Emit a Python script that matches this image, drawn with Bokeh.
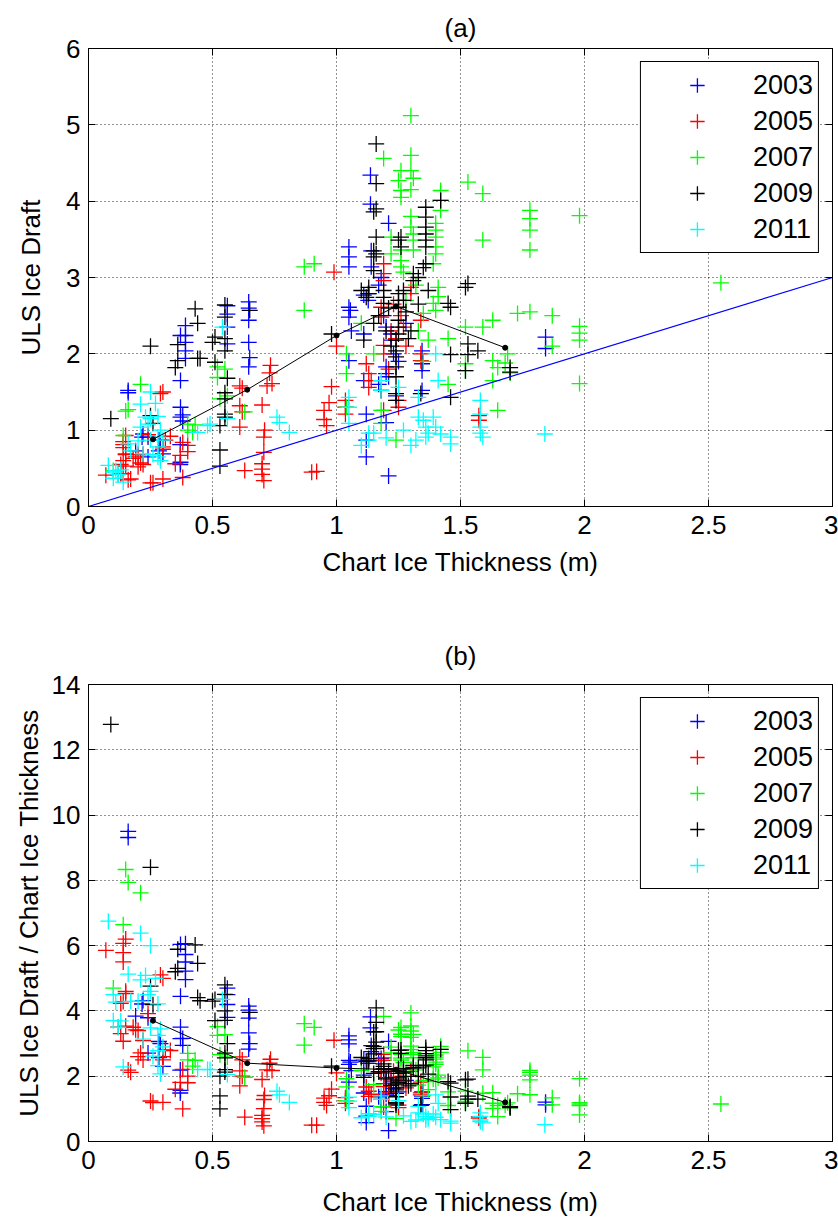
from bokeh.plotting import figure
from bokeh.models import ColumnDataSource, Legend, LegendItem, FixedTicker, LinearAxis, Range1d
from bokeh.layouts import column
from bokeh.embed import file_html
from bokeh.resources import INLINE

# ---------------- data (chart ice thickness, ULS ice draft) ----------------
years = ["2003", "2005", "2007", "2009", "2011"]
colors = ["#0000FF", "#FF0000", "#00FF00", "#000000", "#00FFFF"]

pts_2003 = [
    (0.16, 1.52), (0.16, 1.49), (0.391, 2.37), (0.391, 2.24), (0.391, 2.15), (0.391, 2.04), (0.391, 1.94),
    (0.371, 2.24), (0.371, 1.65), (0.371, 1.30), (0.371, 1.17), (0.56, 2.63), (0.56, 2.52), (0.56, 2.35),
    (0.56, 2.13), (0.646, 2.68), (0.646, 2.60), (0.646, 2.44), (0.646, 2.15), (0.646, 1.83), (0.65, 1.95),
    (0.284, 0.87), (0.284, 0.73), (0.371, 0.58), (0.19, 0.73), (0.216, 0.91), (0.22, 0.95), (0.24, 0.91),
    (0.24, 0.65), (0.29, 0.87), (0.30, 0.69), (0.37, 0.81), (0.37, 0.55), (0.38, 1.20), (0.38, 1.12),
    (1.05, 3.40), (1.05, 3.27), (1.05, 3.14), (1.05, 2.61), (1.05, 2.48), (1.06, 2.30), (1.056, 2.57),
    (1.137, 4.34), (1.137, 3.96), (1.21, 3.71), (1.14, 3.35), (1.14, 3.14), (1.128, 2.79), (1.128, 2.70),
    (1.20, 2.35), (1.05, 1.91), (1.11, 1.65), (1.12, 1.21), (1.12, 0.87), (1.12, 0.65), (1.21, 0.40),
    (1.20, 1.10), (1.20, 1.83), (1.20, 1.74), (1.21, 1.70), (1.345, 2.04), (1.345, 1.87), (1.345, 1.78),
    (1.345, 1.52), (1.22, 2.26), (1.22, 2.18), (1.11, 2.26), (1.843, 2.22), (1.843, 2.07), (1.11, 2.77),
    (1.18, 3.00), (1.17, 2.90), (1.19, 2.50), (1.23, 2.00), (1.25, 1.90), (1.17, 1.60), (1.24, 1.45),
    (1.28, 2.40),
]
pts_2005 = [
    (0.07, 0.41), (0.14, 0.85), (0.15, 0.93), (0.14, 0.81), (0.14, 0.77), (0.15, 0.69), (0.15, 0.68),
    (0.14, 0.60), (0.13, 0.55), (0.12, 0.42), (0.13, 0.43), (0.14, 0.43), (0.15, 0.53), (0.18, 0.63),
    (0.19, 0.65), (0.20, 0.68), (0.21, 0.57), (0.20, 0.52), (0.22, 0.55), (0.17, 0.36), (0.16, 0.35),
    (0.24, 0.94), (0.22, 0.68), (0.29, 1.48), (0.30, 1.50), (0.31, 0.87), (0.30, 0.78), (0.33, 0.92),
    (0.30, 0.75), (0.25, 0.31), (0.26, 0.31), (0.30, 0.36), (0.38, 0.38), (0.35, 0.56), (0.37, 0.67),
    (0.40, 0.72), (0.40, 0.80), (0.38, 0.84),
    (0.61, 1.58), (0.62, 1.55), (0.61, 1.32), (0.62, 1.24), (0.61, 1.04), (0.63, 0.47), (0.70, 1.33),
    (0.72, 1.58), (0.73, 1.75), (0.734, 1.85), (0.74, 1.61), (0.71, 1.00), (0.70, 0.56), (0.70, 0.49),
    (0.70, 0.42), (0.707, 0.91), (0.707, 0.71), (0.707, 0.34), (0.90, 0.45), (0.92, 0.46),
    (0.95, 1.14), (0.96, 1.06), (0.97, 1.36), (0.98, 1.57), (1.00, 2.10), (0.99, 3.07), (0.95, 1.26),
    (1.036, 1.39), (1.036, 1.30), (1.036, 1.21),
    (1.19, 3.18), (1.19, 3.05), (1.19, 2.96), (1.30, 2.87), (1.30, 2.79), (1.34, 2.44), (1.18, 2.61),
    (1.18, 2.48), (1.12, 1.87), (1.13, 1.74), (1.14, 1.65), (1.13, 1.56), (1.19, 2.11), (1.19, 2.00),
    (1.25, 1.39), (1.25, 1.30), (1.34, 2.00), (1.34, 1.91), (1.574, 1.19), (1.574, 1.13), (1.19, 1.26),
    (1.22, 2.30), (1.24, 2.20), (1.26, 2.50), (1.28, 2.10), (1.21, 1.80), (1.23, 2.65), (1.27, 2.35),
]
pts_2007 = [
    (0.10, 0.47), (0.14, 0.93), (0.15, 1.25), (0.16, 1.27), (0.21, 1.60), (0.40, 1.08), (0.40, 1.00),
    (0.42, 0.97), (0.43, 1.07), (0.52, 1.83), (0.52, 1.69), (0.53, 1.41), (0.55, 1.80), (0.56, 1.45),
    (0.63, 1.24), (0.87, 2.57), (0.91, 3.18), (0.87, 3.14),
    (1.30, 5.12), (1.19, 4.56), (1.30, 4.60), (1.30, 4.40), (1.31, 4.30), (1.30, 4.15), (1.26, 4.40),
    (1.25, 4.27), (1.26, 4.14), (1.26, 4.05), (1.42, 4.14), (1.42, 4.01), (1.42, 3.88), (1.53, 4.25),
    (1.59, 4.10), (1.78, 3.88), (1.78, 3.77), (1.78, 3.62), (1.78, 3.36), (1.98, 3.81), (1.59, 3.49),
    (1.30, 3.80), (1.30, 3.66), (1.31, 3.57), (1.31, 3.49), (1.31, 3.36), (1.40, 3.71), (1.40, 3.62),
    (1.40, 3.53), (1.40, 3.40), (1.40, 3.31), (1.39, 3.18), (1.26, 3.36), (1.26, 3.22), (1.26, 3.14),
    (1.27, 3.07), (1.32, 2.90), (1.22, 3.53), (1.22, 3.31), (1.41, 2.87), (1.41, 2.75), (1.39, 2.66),
    (1.40, 2.57), (1.52, 2.35), (1.63, 2.44), (1.73, 2.53), (1.35, 2.53), (1.04, 2.00), (1.04, 1.74),
    (1.04, 1.30), (1.18, 1.26), (1.18, 1.09), (1.24, 0.87), (1.37, 2.18), (1.59, 2.35), (1.63, 1.91),
    (1.65, 1.82), (1.63, 1.65), (1.68, 1.88), (1.65, 1.26), (1.52, 1.87), (1.52, 1.78), (2.55, 2.93),
    (1.78, 2.55), (1.87, 2.50), (1.98, 2.36), (1.98, 2.27), (1.98, 2.18), (1.87, 2.10), (1.98, 1.61),
    (1.10, 2.40), (1.15, 2.00), (1.28, 2.70), (1.33, 2.30), (1.45, 2.20), (1.70, 1.75), (1.69, 2.00),
    (1.35, 1.90), (1.45, 1.60),
]
pts_2009 = [
    (0.09, 1.15), (0.25, 1.19), (0.25, 2.10), (0.43, 2.59), (0.44, 2.40), (0.36, 2.12), (0.44, 1.94),
    (0.36, 1.91), (0.35, 1.82), (0.26, 1.09), (0.45, 1.94), (0.50, 2.15),
    (0.55, 2.64), (0.55, 2.48), (0.55, 2.20), (0.55, 2.04), (0.56, 1.68), (0.55, 1.49), (0.53, 1.06),
    (0.53, 0.74), (0.53, 0.53), (0.51, 2.22), (0.51, 1.89), (0.55, 1.17), (0.55, 1.21), (0.55, 1.41),
    (0.65, 2.57), (0.98, 2.26),
    (1.16, 4.75), (1.16, 4.23), (1.16, 3.90), (1.15, 3.86), (1.42, 4.01), (1.36, 3.92), (1.36, 3.79),
    (1.36, 3.66), (1.36, 3.57), (1.36, 3.49), (1.36, 3.40), (1.36, 3.18), (1.16, 3.53), (1.16, 3.31),
    (1.15, 3.09), (1.26, 3.53), (1.26, 3.40), (1.25, 3.49), (1.53, 2.92), (1.46, 2.61), (1.31, 3.05),
    (1.31, 2.96), (1.13, 2.87), (1.13, 2.79), (1.25, 2.79), (1.25, 2.70), (1.25, 2.61), (1.25, 2.44),
    (1.25, 2.35), (1.25, 2.26), (1.30, 2.30), (1.10, 2.83), (1.12, 2.74), (1.19, 2.83), (1.19, 2.74),
    (1.19, 2.66), (1.27, 2.83), (1.27, 2.70), (1.33, 3.00), (1.45, 2.66), (1.37, 2.83), (1.46, 1.99),
    (1.53, 1.99), (1.52, 1.78), (1.53, 2.13), (1.57, 2.04), (1.70, 1.82), (1.70, 1.76), (1.46, 1.43),
    (1.34, 1.48), (1.18, 1.52), (1.24, 1.48), (1.24, 1.39), (1.24, 2.18), (1.24, 2.04), (1.24, 1.96),
    (1.24, 1.83), (1.24, 1.70), (1.11, 2.18), (1.15, 3.35), (1.15, 3.27), (1.35, 3.13), (1.52, 2.87),
    (1.17, 2.50), (1.20, 2.30), (1.22, 2.10), (1.28, 2.55), (1.29, 2.20), (1.21, 2.60), (1.15, 2.40),
    (1.33, 2.65),
]
pts_2011 = [
    (0.08, 0.54), (0.10, 0.45), (0.11, 0.47), (0.12, 0.42), (0.13, 0.48), (0.10, 0.37), (0.14, 0.32),
    (0.16, 0.82), (0.17, 0.73), (0.21, 1.34), (0.25, 1.50), (0.27, 1.35), (0.25, 1.15), (0.23, 1.17),
    (0.21, 1.04), (0.24, 1.08), (0.29, 1.00), (0.28, 0.91), (0.28, 0.78), (0.25, 0.87), (0.22, 0.69),
    (0.28, 0.65), (0.29, 0.60), (0.20, 0.86), (0.28, 1.18), (0.30, 0.87), (0.26, 0.68),
    (0.54, 2.35), (0.48, 1.06), (0.49, 1.08), (0.56, 1.15), (0.76, 1.17), (0.77, 1.10), (0.81, 0.97),
    (0.44, 0.97),
    (1.05, 1.43), (1.05, 1.30), (1.05, 1.09), (1.18, 1.65), (1.18, 1.52), (1.25, 1.56), (1.13, 0.96),
    (1.15, 0.96), (1.13, 0.87), (1.33, 1.43), (1.33, 1.17), (1.35, 1.13), (1.36, 1.04), (1.37, 0.96),
    (1.36, 0.91), (1.32, 0.87), (1.39, 1.17), (1.40, 1.04), (1.41, 1.65), (1.46, 0.91), (1.46, 0.82),
    (1.58, 1.39), (1.58, 1.21), (1.58, 1.04), (1.58, 0.96), (1.59, 0.91), (1.40, 2.00), (1.84, 0.95),
    (1.10, 0.80), (1.20, 0.90), (1.27, 1.00), (1.30, 0.80), (1.42, 0.95),
]
all_pts = [pts_2003, pts_2005, pts_2007, pts_2009, pts_2011]

# binned means
mean_x = [0.26, 0.64, 1.00, 1.24, 1.68]
mean_draft = [0.88, 1.53, 2.24, 2.62, 2.08]
mean_ratio = [3.70, 2.40, 2.25, 2.20, 1.20]

# one-to-one reference line
ref_x = [0, 3]
ref_y = [0, 3]

x_ticks = [0, 0.5, 1, 1.5, 2, 2.5, 3]
x_tick_labels = ["0", "0.5", "1", "1.5", "2", "2.5", "3"]
ya_ticks = [0, 1, 2, 3, 4, 5, 6]
yb_ticks = [0, 2, 4, 6, 8, 10, 12, 14]

FONT = "Liberation Sans"
FS = "26px"


def box_axis(ticks):
    return LinearAxis(ticker=FixedTicker(ticks=ticks), major_label_text_font_size="1px",
                      major_label_text_color=None, major_tick_in=7, major_tick_out=0,
                      minor_tick_line_color=None, major_label_standoff=0,
                      axis_line_color="black", major_tick_line_color="black")


def style_axes(p, yticks, ylabel, ylabel_standoff, xlabel_standoff):
    xa = p.xaxis[0]
    ya = p.yaxis[0]
    xa.ticker = FixedTicker(ticks=x_ticks)
    xa.major_label_overrides = {float(t): s for t, s in zip(x_ticks, x_tick_labels)}
    ya.ticker = FixedTicker(ticks=yticks)
    xa.axis_label = "Chart Ice Thickness (m)"
    ya.axis_label = ylabel
    for ax in (xa, ya):
        ax.major_tick_in = 7
        ax.major_tick_out = 0
        ax.minor_tick_line_color = None
        ax.axis_line_color = "black"
        ax.major_tick_line_color = "black"
        ax.major_label_text_font = FONT
        ax.major_label_text_font_size = FS
        ax.major_label_text_color = "black"
        ax.axis_label_text_font = FONT
        ax.axis_label_text_font_size = FS
        ax.axis_label_text_font_style = "normal"
        ax.axis_label_text_color = "black"
    xa.major_label_standoff = 9
    ya.major_label_standoff = 8
    xa.axis_label_standoff = xlabel_standoff
    ya.axis_label_standoff = ylabel_standoff
    p.add_layout(box_axis(yticks), "right")
    p.add_layout(box_axis(x_ticks), "above")
    p.grid.grid_line_color = "black"
    p.grid.grid_line_dash = "1 3"
    p.grid.grid_line_alpha = 0.85
    p.grid.grid_line_width = 1
    p.outline_line_color = "black"
    p.outline_line_alpha = 1


def make_panel(title, height, top, bottom, ymax, yticks, ylabel, ylabel_standoff,
               xlabel_standoff, ratio, mean_y, title_standoff):
    p = figure(width=838, height=height, x_range=Range1d(0, 3), y_range=Range1d(0, ymax),
               output_backend="svg", toolbar_location=None,
               min_border_left=88, min_border_right=6, min_border_top=top, min_border_bottom=bottom,
               background_fill_color="white", border_fill_color="white")
    p.title.text = title
    p.title.align = "center"
    p.title.text_font = FONT
    p.title.text_font_size = FS
    p.title.text_font_style = "normal"
    p.title.text_color = "black"
    p.title.standoff = title_standoff
    style_axes(p, yticks, ylabel, ylabel_standoff, xlabel_standoff)

    items = []
    for yr, col, pts in zip(years, colors, all_pts):
        xs = [a for a, b in pts]
        ys = [b / a for a, b in pts] if ratio else [b for a, b in pts]
        src = ColumnDataSource(dict(x=xs, y=ys))
        r = p.scatter("x", "y", source=src, marker="cross", size=16,
                      line_color=col, line_width=1.3)
        items.append(LegendItem(label=yr, renderers=[r]))

    if not ratio:
        p.line(ref_x, ref_y, line_color="#0000FF", line_width=1.2)
    p.line(mean_x, mean_y, line_color="black", line_width=1)
    p.scatter(mean_x, mean_y, marker="circle", size=5, fill_color="black", line_color="black")

    leg = Legend(items=items, location="top_right")
    leg.border_line_color = "black"
    leg.border_line_width = 1
    leg.border_line_alpha = 1
    leg.background_fill_color = "white"
    leg.background_fill_alpha = 1
    leg.label_text_font = FONT
    leg.label_text_font_size = "27px"
    leg.label_text_color = "black"
    leg.glyph_width = 102
    leg.glyph_height = 36
    leg.label_standoff = 5
    leg.padding = 5
    leg.spacing = 0
    leg.margin = 13
    p.add_layout(leg)
    return p


pa = make_panel("(a)", 600, 48, 94, 6, ya_ticks, "ULS Ice Draft", 17, 10, False, mean_draft, 12)
pb = make_panel("(b)", 619, 84, 75, 14, yb_ticks, "ULS Ice Draft / Chart Ice Thickness", 5, 15,
                True, mean_ratio, 28)

layout = column(pa, pb)
open("out.html", "w").write(file_html(layout, INLINE))
